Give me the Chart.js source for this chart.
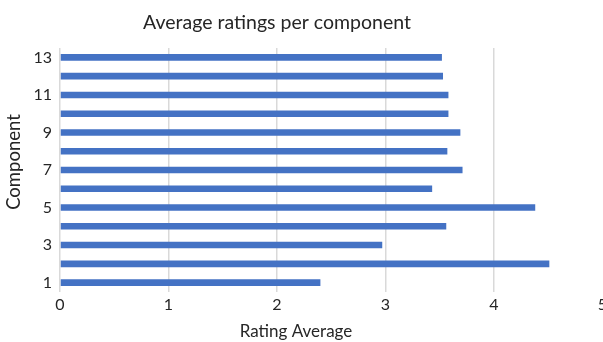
<!DOCTYPE html>
<html>
<head>
<meta charset="utf-8">
<script src="https://cdn.jsdelivr.net/npm/chart.js@4/dist/chart.umd.min.js"></script>
<style>
html,body{margin:0;padding:0;background:#fff;overflow:hidden;}
#wrap{width:603px;height:342px;position:relative;}
</style>
</head>
<body>
<div id="wrap"><canvas id="c" width="603" height="342"></canvas></div>
<script>
const components = ['1','2','3','4','5','6','7','8','9','10','11','12','13'];
const ratingAverage = [2.40, 4.51, 2.97, 3.56, 4.38, 3.43, 3.71, 3.57, 3.69, 3.58, 3.58, 3.53, 3.52];
const xTicks = [0, 1, 2, 3, 4, 5];
const chartTitle = 'Average ratings per component';
const xTitle = 'Rating Average';
const yTitle = 'Component';

const FONT = 'Lato, "Open Sans", sans-serif';

const titlesPlugin = {
  id: 'titles',
  afterDraw(chart) {
    const ctx = chart.ctx;
    ctx.save();
    ctx.fillStyle = '#262626';
    ctx.textAlign = 'center';
    ctx.textBaseline = 'alphabetic';
    ctx.font = '19.5px ' + FONT;
    ctx.fillText(chartTitle, 277, 29);
    ctx.font = '17px ' + FONT;
    ctx.fillText(xTitle, 296, 337);
    ctx.font = '18.5px ' + FONT;
    ctx.translate(20, 162);
    ctx.rotate(-Math.PI / 2);
    ctx.fillText(yTitle, 0, 0);
    ctx.restore();
  }
};

new Chart(document.getElementById('c'), {
  type: 'bar',
  data: {
    labels: components,
    datasets: [{
      data: ratingAverage,
      backgroundColor: '#4472C4',
      borderWidth: 0,
      barPercentage: 0.35,
      categoryPercentage: 1
    }]
  },
  options: {
    indexAxis: 'y',
    responsive: false,
    animation: false,
    layout: { autoPadding: false, padding: { top: 48, left: 0, right: 0.5, bottom: 0 } },
    plugins: { legend: { display: false }, title: { display: false }, tooltip: { enabled: false } },
    scales: {
      x: {
        type: 'linear',
        min: 0,
        max: 5,
        afterBuildTicks(scale) { scale.ticks = xTicks.map(v => ({ value: v })); },
        afterFit(scale) { scale.height = 50; scale.paddingLeft = 0; scale.paddingRight = 0; },
        grid: {
          color: (c) => (c.tick && c.tick.value === 5) ? 'rgba(0,0,0,0)' : '#d9d9d9',
          lineWidth: 1.5,
          drawTicks: false
        },
        border: { display: false },
        ticks: { font: { family: FONT, size: 16 }, color: '#262626', padding: 3 }
      },
      y: {
        reverse: true,
        afterFit(scale) { scale.width = 60; },
        grid: { display: false, drawTicks: false },
        border: { display: false },
        ticks: {
          autoSkip: false,
          font: { family: FONT, size: 16 },
          color: '#262626',
          padding: 8,
          callback(v, i) { return i % 2 === 0 ? components[i] : ''; }
        }
      }
    }
  },
  plugins: [titlesPlugin]
});
</script>
</body>
</html>
